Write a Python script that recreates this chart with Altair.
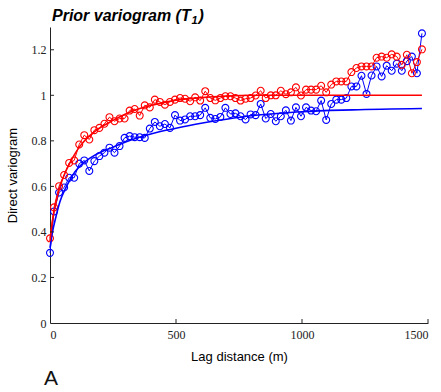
import altair as alt
import pandas as pd

# Experimental variogram: lag distance (m) and semivariance for each series
lags = [0, 16, 36, 56, 76, 96, 116, 136, 156, 176, 196, 216, 236, 256, 276,
        296, 316, 336, 356, 376, 396, 416, 436, 456, 476, 496, 516, 536, 556,
        576, 596, 616, 636, 656, 676, 696, 716, 736, 756, 776, 796, 816, 836,
        856, 876, 896, 916, 936, 956, 976, 996, 1016, 1036, 1056, 1076, 1096,
        1116, 1136, 1156, 1176, 1196, 1216, 1236, 1256, 1276, 1296, 1316, 1336,
        1356, 1376, 1396, 1416, 1436, 1456, 1476]

red_gamma = [0.372, 0.508, 0.601, 0.650, 0.703, 0.714, 0.784, 0.825, 0.806,
             0.847, 0.857, 0.875, 0.904, 0.886, 0.898, 0.898, 0.933, 0.940,
             0.911, 0.956, 0.947, 0.981, 0.971, 0.959, 0.971, 0.981, 0.988,
             0.985, 0.974, 0.991, 0.977, 1.018, 0.988, 0.978, 0.988, 0.996,
             0.996, 0.988, 0.977, 0.985, 0.988, 0.999, 1.020, 0.988, 1.000,
             1.000, 1.020, 1.005, 1.013, 1.035, 0.999, 1.025, 1.025, 1.025,
             1.042, 1.013, 1.047, 1.061, 1.061, 1.061, 1.102, 1.120, 1.127,
             1.127, 1.127, 1.165, 1.170, 1.165, 1.180, 1.170, 1.134, 1.178,
             1.097, 1.146, 1.202]

blue_gamma = [0.308, 0.490, 0.573, 0.595, 0.638, 0.638, 0.700, 0.714, 0.668,
              0.711, 0.733, 0.748, 0.770, 0.748, 0.777, 0.813, 0.821, 0.816,
              0.816, 0.813, 0.854, 0.883, 0.864, 0.874, 0.857, 0.913, 0.889,
              0.894, 0.908, 0.908, 0.913, 0.945, 0.901, 0.896, 0.905, 0.945,
              0.918, 0.921, 0.908, 0.894, 0.916, 0.913, 0.962, 0.898, 0.918,
              0.886, 0.908, 0.934, 0.889, 0.947, 0.908, 0.947, 0.933, 0.930,
              0.977, 0.892, 0.962, 0.981, 0.981, 0.988, 1.039, 1.039, 1.086,
              1.006, 1.087, 1.127, 1.083, 1.130, 1.108, 1.139, 1.108, 1.150,
              1.170, 1.097, 1.272]

# Fitted variogram models
red_model_lag = [0, 10, 20, 40, 60, 80, 100, 120, 160, 200, 250, 300, 350,
                 400, 450, 500, 600, 700, 800, 1000, 1476]
red_model_gamma = [0.36, 0.45, 0.51, 0.60, 0.66, 0.705, 0.745, 0.778, 0.825,
                   0.858, 0.89, 0.918, 0.94, 0.955, 0.968, 0.978, 0.99, 0.997,
                   1.0, 1.0, 1.0]

blue_model_lag = [0, 10, 20, 40, 60, 80, 100, 120, 160, 200, 250, 300, 400,
                  500, 600, 700, 800, 900, 1000, 1200, 1476]
blue_model_gamma = [0.33, 0.40, 0.45, 0.535, 0.588, 0.63, 0.665, 0.69, 0.725,
                    0.75, 0.772, 0.795, 0.83, 0.855, 0.877, 0.895, 0.91, 0.92,
                    0.928, 0.936, 0.942]

y_ticks = [0.2, 0.4, 0.6, 0.8, 1.0, 1.2]
x_ticks = [500, 1000, 1500]

W, H = 378, 296
SERIF = "Liberation Serif, Times New Roman, serif"
SANS = "Liberation Sans, Arial, sans-serif"

points = pd.concat([
    pd.DataFrame({"lag": lags, "gamma": blue_gamma, "series": "blue"}),
    pd.DataFrame({"lag": lags, "gamma": red_gamma, "series": "red"}),
])
models = pd.concat([
    pd.DataFrame({"lag": blue_model_lag, "gamma": blue_model_gamma, "series": "blue"}),
    pd.DataFrame({"lag": red_model_lag, "gamma": red_model_gamma, "series": "red"}),
])

color = alt.Color("series:N", scale=alt.Scale(domain=["blue", "red"],
                                               range=["#0000ff", "#ff0000"]),
                  legend=None)

x_enc = alt.X("lag:Q", scale=alt.Scale(domain=[0, 1500], nice=False),
              axis=alt.Axis(values=[0] + x_ticks, format="d",
                            title="Lag distance (m)",
                            ticks=False, tickSize=0, labelPadding=6,
                            labelFont=SERIF, labelFontSize=12,
                            titleFont=SANS, titleFontSize=13,
                            titlePadding=10, grid=False))
y_enc = alt.Y("gamma:Q", scale=alt.Scale(domain=[0, 1.3], nice=False),
              axis=alt.Axis(values=[0] + y_ticks, format="~g",
                            title="Direct variogram", ticks=False, tickSize=0,
                            labelFont=SERIF, labelFontSize=12,
                            titleFont=SANS, titleFontSize=13,
                            labelPadding=4, titlePadding=12, grid=False))

base = alt.Chart(points)

data_lines = base.mark_line(strokeWidth=1).encode(
    x=x_enc, y=y_enc, color=color, detail="series:N")
data_pts = base.mark_point(shape="circle", filled=False, size=48,
                           strokeWidth=1.1, opacity=1).encode(
    x="lag:Q", y="gamma:Q", color=color)

model_lines = alt.Chart(models).mark_line(strokeWidth=1.6,
                                          interpolate="monotone").encode(
    x="lag:Q", y="gamma:Q", color=color, detail="series:N")

# Inward-pointing tick marks
ytick_rules = alt.Chart(pd.DataFrame({"v": y_ticks})).mark_rule(
    color="#222", strokeWidth=1).encode(
    y="v:Q", x=alt.value(0), x2=alt.value(4))
xtick_rules = alt.Chart(pd.DataFrame({"v": x_ticks})).mark_rule(
    color="#222", strokeWidth=1).encode(
    x="v:Q", y=alt.value(H), y2=alt.value(H - 4))

# Title with a real subscript: main text, subscript digit, closing bracket
title_parts = pd.DataFrame({
    "t": ["Prior variogram (T", "1", ")"],
    "size": [16, 11, 16],
    "dx": [2, 141.5, 148.5],
    "dy": [-6, -3, -6],
})
title_marks = [
    alt.Chart(title_parts.iloc[[i]]).mark_text(
        font=SANS, fontSize=int(row["size"]), fontWeight="bold",
        fontStyle="italic", color="#000", align="left",
        baseline="alphabetic").encode(
        text="t:N", x=alt.value(float(row["dx"])), y=alt.value(float(row["dy"])))
    for i, row in title_parts.iterrows()
]

panel_label = alt.Chart(pd.DataFrame({"t": ["A"]})).mark_text(
    font=SANS, fontSize=21, color="#111", align="center",
    baseline="middle").encode(
    text="t:N", x=alt.value(1), y=alt.value(352))

chart = alt.layer(
    data_lines, data_pts, model_lines, ytick_rules, xtick_rules,
    *title_marks, panel_label
).properties(
    width=W, height=H,
    autosize=alt.AutoSizeParams(type="none"),
    padding={"left": 50, "top": 27, "right": 13, "bottom": 69},
).configure_view(stroke=None).configure_axis(
    domainColor="#222", domainWidth=1,
    labelFont=SERIF, labelFontSize=12, labelColor="#222",
    titleFont=SANS, titleFontSize=13, titleFontWeight="normal",
    titleColor="#000",
)

chart.save("out.html", embed_options={"renderer": "svg", "actions": False})
